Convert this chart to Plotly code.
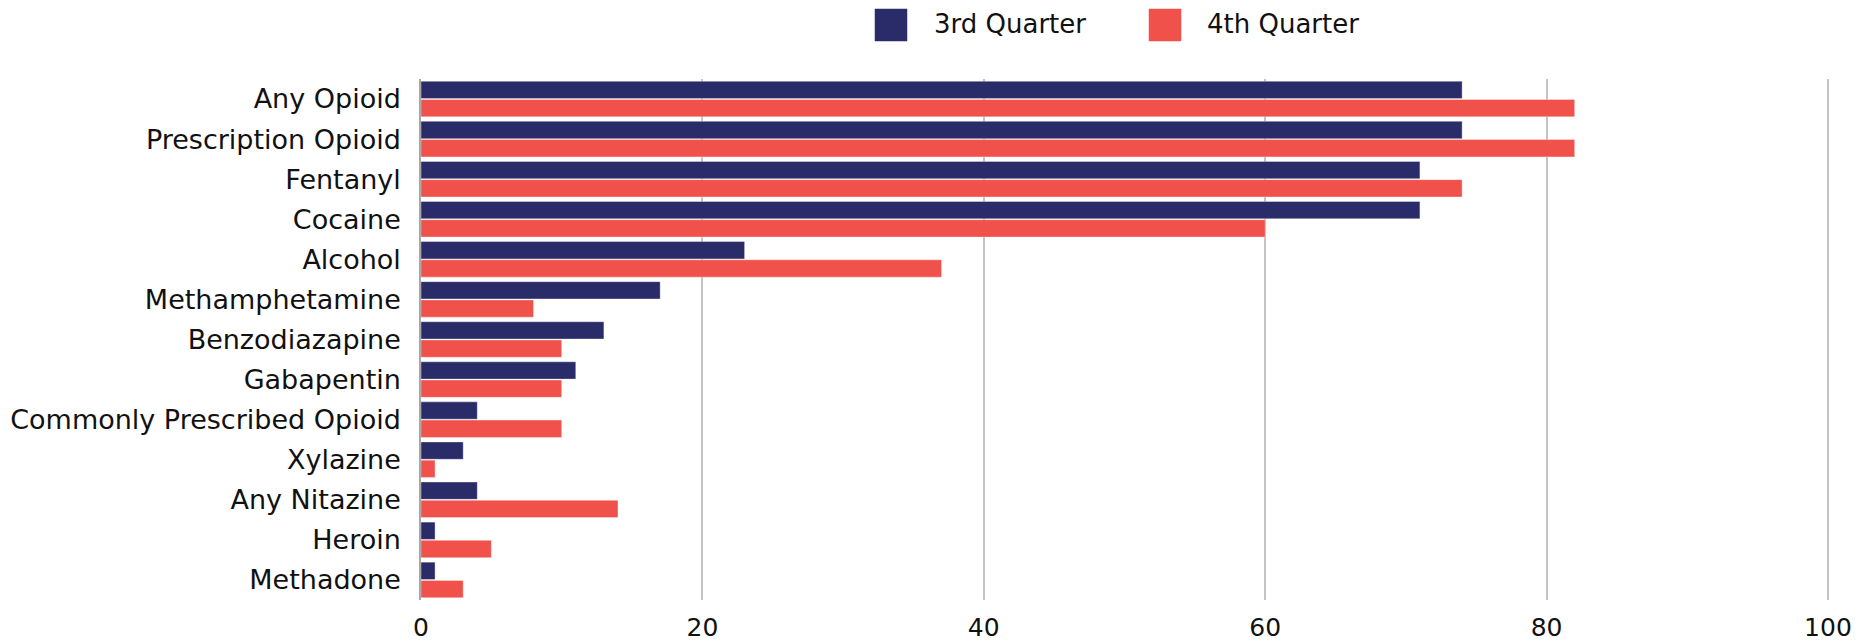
import plotly.graph_objects as go

categories = ["Any Opioid", "Prescription Opioid", "Fentanyl", "Cocaine", "Alcohol",
              "Methamphetamine", "Benzodiazapine", "Gabapentin", "Commonly Prescribed Opioid",
              "Xylazine", "Any Nitazine", "Heroin", "Methadone"]
q3_values = [74, 74, 71, 71, 23, 17, 13, 11, 4, 3, 4, 1, 1]
q4_values = [82, 82, 74, 60, 37, 8, 10, 10, 10, 1, 14, 5, 3]
series_names = ["3rd Quarter", "4th Quarter"]
x_ticks = [0, 20, 40, 60, 80, 100]

navy = "#2A2C6A"
red = "#F0514A"
FONT = "DejaVu Sans"

L, R, T, B = 421, 26, 79, 41
W, H = 1868, 641
pw, ph = W - L - R, H - T - B

fig = go.Figure()
fig.add_trace(go.Bar(y=categories, x=q3_values, orientation="h", name=series_names[0],
                     marker=dict(color=navy, line=dict(color="rgba(255,255,255,0.6)", width=0.6))))
fig.add_trace(go.Bar(y=categories, x=q4_values, orientation="h", name=series_names[1],
                     marker=dict(color=red, line=dict(color="rgba(255,255,255,0.6)", width=0.6))))

fig.update_layout(
    width=W, height=H,
    margin=dict(l=L, r=R, t=T, b=B),
    barmode="group", bargap=0.09, bargroupgap=0.05,
    plot_bgcolor="white", paper_bgcolor="white",
    showlegend=False,
    font=dict(family=FONT, size=24, color="#111111"),
)
fig.update_xaxes(range=[0, 101], tickvals=x_ticks, showgrid=True, gridcolor="#C4C4C4",
                 gridwidth=1.5, zeroline=False, showline=False, ticks="", automargin=False,
                 ticklabelstandoff=10, tickfont=dict(size=25))
fig.update_yaxes(autorange="reversed", showgrid=False, zeroline=False, showline=True,
                 linecolor="#A8A8A8", linewidth=1.5, ticks="", ticklabelstandoff=13,
                 automargin=False, tickfont=dict(size=27))

# legend drawn manually with large square swatches
legend_items = [(875, 932, navy, series_names[0]), (1149, 1205, red, series_names[1])]
for sx, tx, col, name in legend_items:
    fig.add_shape(type="rect", xref="paper", yref="paper",
                  x0=(sx - L) / pw, x1=(sx + 32 - L) / pw,
                  y0=1 + (T - 41) / ph, y1=1 + (T - 9) / ph,
                  fillcolor=col, line=dict(color=col, width=0.5))
    fig.add_annotation(xref="paper", yref="paper", x=(tx - L) / pw, y=1 + (T - 24) / ph,
                       text=name, showarrow=False, xanchor="left", yanchor="middle",
                       font=dict(family=FONT, size=26, color="#111111"))

fig.write_html("out.html")
